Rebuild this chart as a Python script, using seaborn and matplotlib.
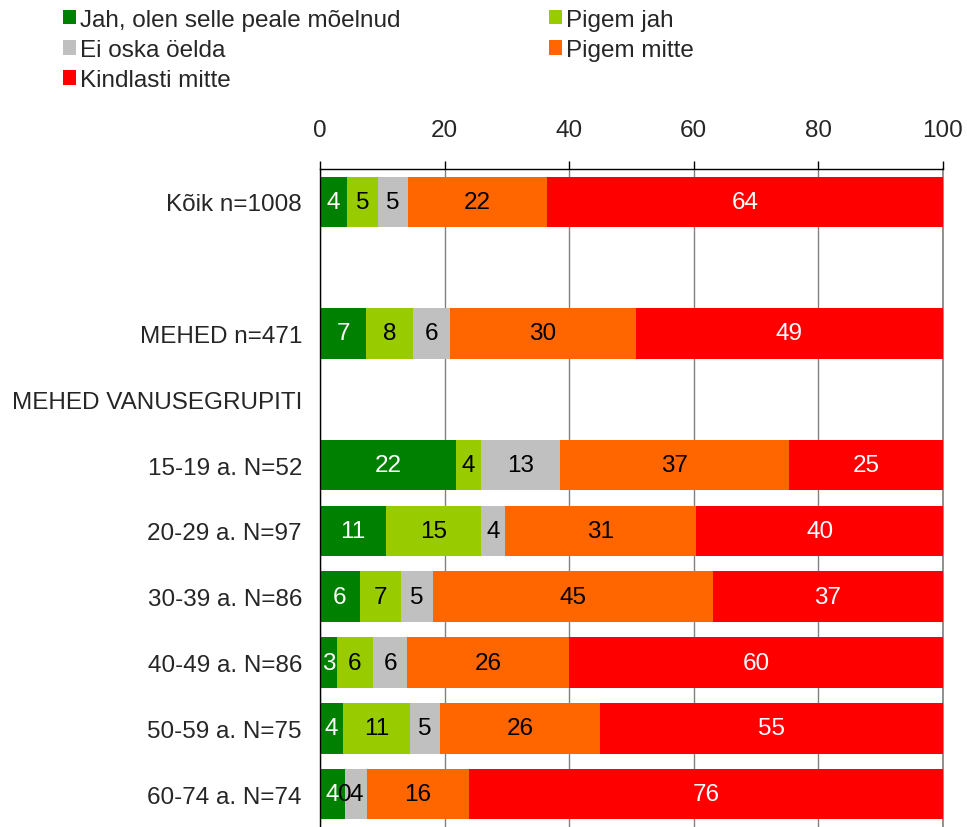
import matplotlib
matplotlib.use("Agg")
import matplotlib.pyplot as plt
from matplotlib.patches import Patch
import numpy as np
import pandas as pd
import seaborn as sns

# row order on the y axis (blank row and a group header without bar)
rows = ["Kõik n=1008", " ", "MEHED n=471", "MEHED VANUSEGRUPITI",
        "15-19 a. N=52", "20-29 a. N=97", "30-39 a. N=86",
        "40-49 a. N=86", "50-59 a. N=75", "60-74 a. N=74"]

groups = ["Kõik n=1008", "MEHED n=471", "15-19 a. N=52", "20-29 a. N=97",
          "30-39 a. N=86", "40-49 a. N=86", "50-59 a. N=75", "60-74 a. N=74"]

series = ["Jah, olen selle peale mõelnud", "Pigem jah", "Ei oska öelda",
          "Pigem mitte", "Kindlasti mitte"]

jah = [4.3, 7.4, 21.8, 10.6, 6.4, 2.7, 3.7, 4.0]
pigem_jah = [5.0, 7.6, 4.0, 15.2, 6.6, 5.8, 10.8, 0.0]
ei_oska = [4.8, 5.8, 12.8, 3.9, 5.2, 5.5, 4.7, 3.5]
pigem_mitte = [22.3, 29.9, 36.7, 30.7, 44.9, 26.0, 25.8, 16.4]
kindlasti = [63.6, 49.3, 24.7, 39.6, 36.9, 60.0, 55.0, 76.1]

colors = ["#008000", "#99CC00", "#C0C0C0", "#FF6600", "#FF0000"]
text_colors = ["white", "black", "black", "black", "white"]

df = pd.DataFrame({"group": groups, series[0]: jah, series[1]: pigem_jah,
                   series[2]: ei_oska, series[3]: pigem_mitte, series[4]: kindlasti})
cum = df[series].cumsum(axis=1)

sns.set_style("white")
plt.rcParams["font.family"] = ["Liberation Sans", "DejaVu Sans"]
FS = 17.5

fig = plt.figure(figsize=(9.67, 8.28), dpi=100)
ax = fig.add_axes([320 / 967, 0.0, 623 / 967, 1 - 170 / 828])

# stacked bars: draw cumulative totals from the outermost segment inwards
for i in reversed(range(len(series))):
    sns.barplot(x=cum[series[i]], y=df["group"], order=rows, orient="h",
                color=colors[i], saturation=1, width=0.77, errorbar=None,
                ax=ax, zorder=2, linewidth=0)

# segment labels
pos = {r: k for k, r in enumerate(rows)}
for i, s in enumerate(series):
    for g, v, c in zip(df["group"], df[s], cum[s]):
        ax.text(c - v / 2, pos[g], f"{v:.0f}", ha="center", va="center",
                color=text_colors[i], fontsize=FS, zorder=3)

ax.set_xlim(0, 100)
ax.set_ylim(len(rows) - 0.5, -0.5)
ax.set_xticks(np.arange(0, 101, 20))
ax.xaxis.tick_top()
ax.set_xlabel("")
ax.set_ylabel("")
ax.grid(axis="x", color="#808080", linewidth=1, zorder=0)
ax.axvline(100, color="#808080", linewidth=1.2, zorder=0, clip_on=False)
ax.set_axisbelow(True)

ax.set_yticks(range(len(rows)))
ax.set_yticklabels(rows)
ax.set_yticks(np.arange(-0.5, len(rows), 1), minor=True)
ax.tick_params(axis="y", which="major", length=0, pad=13, labelsize=FS)
ax.tick_params(axis="y", which="minor", length=6, color="black", width=1)
ax.tick_params(axis="x", which="major", length=6, color="black", width=1,
               pad=14, labelsize=FS, top=True, bottom=False)

for side in ["right", "bottom"]:
    ax.spines[side].set_visible(False)
for side in ["left", "top"]:
    ax.spines[side].set_color("black")
    ax.spines[side].set_linewidth(1)

# legend laid out row by row: matplotlib fills columns first
handles = [Patch(facecolor=c, edgecolor="none") for c in colors]
order_idx = [0, 2, 4, 1, 3]
fig.legend([handles[k] for k in order_idx], [series[k] for k in order_idx],
           ncol=2, loc="upper left", bbox_to_anchor=(53 / 967, 1.0),
           frameon=False, fontsize=FS, handlelength=0.55, handleheight=0.55,
           handletextpad=0.15, columnspacing=6.1, labelspacing=0.34,
           borderaxespad=0)

fig.savefig("out.png", dpi=100)
